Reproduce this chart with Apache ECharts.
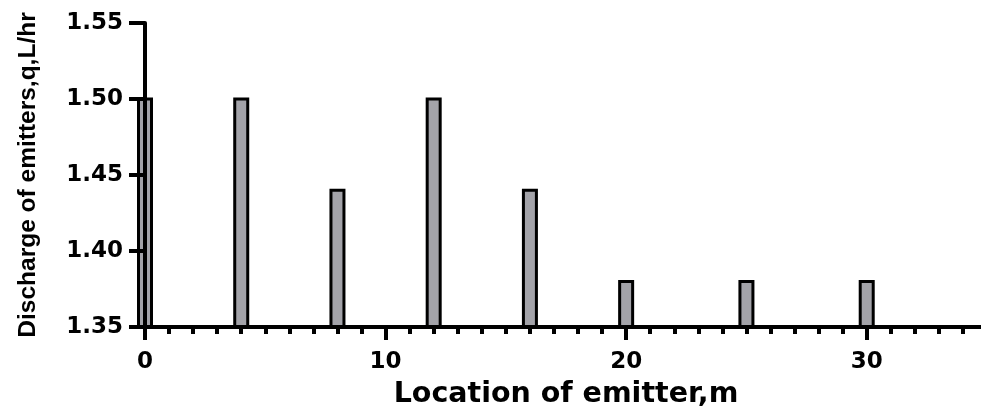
<!DOCTYPE html>
<html>
<head>
<meta charset="utf-8">
<script src="https://cdn.jsdelivr.net/npm/echarts@6/dist/echarts.min.js"></script>
<style>
  html, body { margin: 0; padding: 0; background: #ffffff; }
  #chart { width: 981px; height: 410px; }
</style>
</head>
<body>
<div id="chart"></div>
<script>
// Emitter positions along the lateral (m) and measured discharge (L/hr)
const emitterLocation = [0, 4, 8, 12, 16, 20, 25, 30];
const emitterDischarge = [1.50, 1.50, 1.44, 1.50, 1.44, 1.38, 1.38, 1.38];

// Axis ranges
const xRange = [0, 35];
const xStep = 10;
const yRange = [1.35, 1.55];
const yStep = 0.05;

const xTitle = 'Location of emitter,m';
const yTitle = 'Discharge of emitters,q,L/hr';

const chart = echarts.init(document.getElementById('chart'));

const barData = emitterLocation.map((x, i) => [x, emitterDischarge[i]]);

chart.setOption({
  backgroundColor: '#ffffff',
  animation: false,
  grid: { left: 145, top: 23, width: 842, height: 304, containLabel: false, outerBoundsMode: 'none' },
  xAxis: {
    type: 'value',
    min: xRange[0],
    max: xRange[1],
    interval: xStep,
    z: 5,
    name: xTitle,
    nameLocation: 'middle',
    nameGap: 53,
    nameTextStyle: { fontFamily: 'DejaVu Sans', fontWeight: 'bold', fontSize: 28.5, color: '#000' },
    axisLine: { show: true, onZero: false, lineStyle: { color: '#000', width: 4 } },
    axisTick: { show: true, length: 13, lineStyle: { color: '#000', width: 4 } },
    minorTick: { show: true, splitNumber: 10, length: 7, lineStyle: { color: '#000', width: 4 } },
    axisLabel: {
      margin: 24,
      fontFamily: 'DejaVu Sans', fontWeight: 'bold', fontSize: 23, color: '#000',
      formatter: v => (v % xStep === 0 ? String(v) : '')
    },
    splitLine: { show: false },
    minorSplitLine: { show: false }
  },
  yAxis: {
    type: 'value',
    min: yRange[0],
    max: yRange[1],
    interval: yStep,
    z: 5,
    name: yTitle,
    nameLocation: 'middle',
    nameRotate: 90,
    nameGap: 104,
    nameTextStyle: { fontFamily: "'Liberation Sans', Arial, sans-serif", fontWeight: 'bold', fontSize: 24.5, color: '#000' },
    axisLine: { show: true, onZero: false, lineStyle: { color: '#000', width: 4 } },
    axisTick: { show: true, length: 16, lineStyle: { color: '#000', width: 4 } },
    axisLabel: {
      margin: 22,
      fontFamily: 'DejaVu Sans', fontWeight: 'bold', fontSize: 23, color: '#000',
      formatter: v => v.toFixed(2)
    },
    splitLine: { show: false }
  },
  series: [{
    type: 'custom',
    data: barData,
    clip: false,
    renderItem: (params, api) => {
      const x = api.value(0);
      const v = api.value(1);
      const top = api.coord([x, v]);
      const base = api.coord([x, yRange[0]]);
      const w = 13;
      return {
        type: 'rect',
        shape: { x: top[0] - w / 2, y: top[1], width: w, height: base[1] - top[1] },
        style: { fill: '#a3a3a9', stroke: '#000', lineWidth: 3 }
      };
    }
  }]
});
</script>
</body>
</html>
